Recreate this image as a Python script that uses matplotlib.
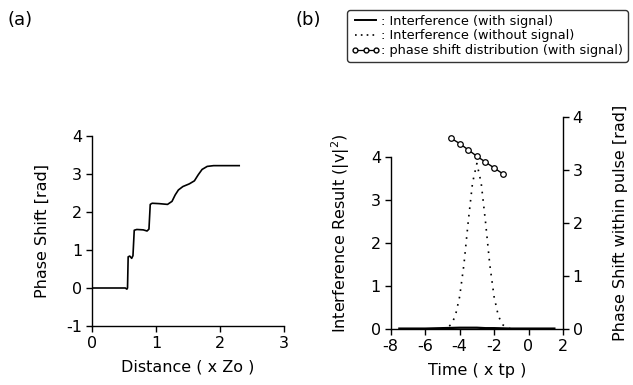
import numpy as np
import matplotlib
matplotlib.use("Agg")
import matplotlib.pyplot as plt
from matplotlib.lines import Line2D

plt.rcParams['font.family'] = ['DejaVu Sans']
plt.rcParams['mathtext.fontset'] = 'dejavusans'

# (a) phase shift vs distance
dist = [0, 0.52, 0.545, 0.555, 0.565, 0.59, 0.62, 0.64, 0.66, 0.70, 0.80, 0.86,
        0.89, 0.91, 0.94, 1.05, 1.18, 1.25, 1.30, 1.35, 1.42, 1.52, 1.60, 1.66,
        1.72, 1.80, 1.90, 2.30]
phase = [0, 0, -0.03, 0.0, 0.82, 0.84, 0.78, 0.85, 1.52, 1.54, 1.53, 1.50,
         1.55, 2.20, 2.23, 2.22, 2.20, 2.28, 2.45, 2.58, 2.67, 2.74, 2.82, 2.98,
         3.12, 3.20, 3.22, 3.22]

# (b) interference result and phase shift within pulse
t_with = [-7.5, -6, -5, -4, -3.5, -3, -2.5, -2, -1, 0, 1.5]
v_with = [0.01, 0.01, 0.02, 0.03, 0.03, 0.03, 0.02, 0.02, 0.01, 0.01, 0.01]

t_without = [-5.0, -4.75, -4.5, -4.25, -4.0, -3.75, -3.5, -3.25, -3.0,
             -2.75, -2.5, -2.25, -2.0, -1.75, -1.5, -1.25, -1.0]
v_without = [0.0, 0.03, 0.1, 0.3, 0.75, 1.5, 2.5, 3.4, 3.85,
             3.4, 2.5, 1.5, 0.75, 0.3, 0.1, 0.03, 0.0]

t_phase = [-4.5, -4.0, -3.5, -3.0, -2.5, -2.0, -1.5]
v_phase = [3.60, 3.50, 3.38, 3.26, 3.15, 3.04, 2.93]

FS = 11.5
W, H = 633, 385
fig = plt.figure(figsize=(W / 100, H / 100), dpi=100)


def box(x0, y0, x1, y1):
    # pixel box (top-left origin) -> figure fraction
    return [x0 / W, 1 - y1 / H, (x1 - x0) / W, (y1 - y0) / H]


def style(ax):
    ax.tick_params(direction='out', length=4, width=1, labelsize=FS, pad=3)
    for s in ax.spines.values():
        s.set_linewidth(1)


# ---- panel (a)
ax1 = fig.add_axes(box(92, 136, 284, 326))
ax1.plot(dist, phase, color='black', lw=1.2)
ax1.set_xlim(0, 3)
ax1.set_ylim(-1, 4)
ax1.set_xticks([0, 1, 2, 3])
ax1.set_yticks([-1, 0, 1, 2, 3, 4])
ax1.set_yticklabels(['-1', '0', '1', '2', '3', '4'])
ax1.spines['top'].set_visible(False)
ax1.spines['right'].set_visible(False)
style(ax1)
ax1.set_xlabel('Distance ( x Zo )', fontsize=FS)
ax1.set_ylabel('Phase Shift [rad]', fontsize=FS)
ax1.xaxis.set_label_coords(0.5, -0.175)
ax1.yaxis.set_label_coords(-0.22, 0.5)

# ---- panel (b)
ax2 = fig.add_axes(box(390.7, 117, 563, 329))
ax2.plot(t_with, v_with, color='black', lw=1.6, clip_on=False)
ax2.plot(t_without, v_without, color='black', lw=1.2, ls=(0, (1, 3.5)))
ax2.set_xlim(-8, 2)
ax2.set_ylim(0, 4 * 212 / 172)
ax2.set_xticks([-8, -6, -4, -2, 0, 2])
ax2.set_xticklabels(['-8', '-6', '-4', '-2', '0', '2'])
ax2.set_yticks([0, 1, 2, 3, 4])
ax2.spines['top'].set_visible(False)
ax2.spines['right'].set_visible(False)
ax2.spines['left'].set_bounds(0, 4)
style(ax2)
ax2.set_xlabel('Time ( x tp )', fontsize=FS)
ax2.set_ylabel(r'Interference Result (|v|$^{2}$)', fontsize=FS)
ax2.xaxis.set_label_coords(0.5, -0.16)
ax2.yaxis.set_label_coords(-0.225, 0.45)

ax3 = ax2.twinx()
ax3.plot(t_phase, v_phase, color='black', lw=1, marker='o', ms=4,
         mfc='white', mec='black', mew=0.9)
ax3.set_ylim(0, 4)
ax3.set_yticks([0, 1, 2, 3, 4])
for s in ['top', 'left', 'bottom']:
    ax3.spines[s].set_visible(False)
style(ax3)
ax3.set_ylabel('Phase Shift within pulse [rad]', fontsize=FS)
ax3.yaxis.set_label_coords(1.29, 0.5)

# legend
handles = [
    Line2D([], [], color='black', lw=1.4),
    Line2D([], [], color='black', lw=1.2, ls=(0, (1, 2.5))),
    Line2D([], [], color='black', lw=0.9, marker='o', ms=3.5, mfc='white',
           mec='black'),
]
labels = [': Interference (with signal)',
          ': Interference (without signal)',
          ': phase shift distribution (with signal)']
leg = fig.legend(handles, labels, loc='upper left',
                 bbox_to_anchor=(347 / W, 1 - 10 / H), fontsize=9.3,
                 frameon=True, fancybox=True, handlelength=2.2,
                 handletextpad=0.1, labelspacing=0.15, borderpad=0.35,
                 numpoints=3, borderaxespad=0)
leg.get_frame().set_edgecolor('black')
leg.get_frame().set_linewidth(1)

fig.text(20 / W, 1 - 20 / H, '(a)', fontsize=13, ha='center', va='center')
fig.text(308 / W, 1 - 20 / H, '(b)', fontsize=13, ha='center', va='center')

fig.savefig('out.png', dpi=100)
